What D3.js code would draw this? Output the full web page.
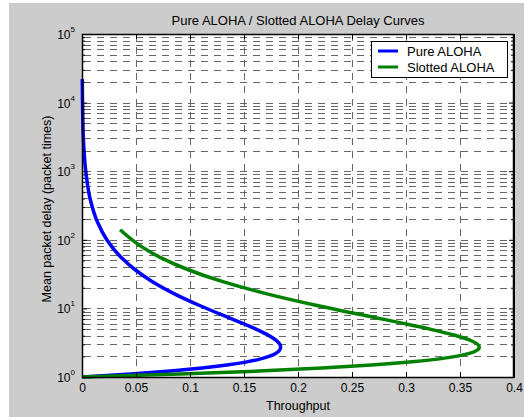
<!DOCTYPE html>
<html>
<head>
<meta charset="utf-8">
<script src="https://cdn.jsdelivr.net/npm/d3@7"></script>
<style>
body { margin: 0; background: #fff; }
text { font-family: "Liberation Sans", Arial, sans-serif; fill: #000; }
</style>
</head>
<body>
<div id="root"></div>
<script>
// throughput / delay pairs
const pureThroughput = [0, 0.0452, 0.0819, 0.1111, 0.1341, 0.1516, 0.1646, 0.1738, 0.1797, 0.1829, 0.1839, 0.1831, 0.1807, 0.1726, 0.1615, 0.1488, 0.1353, 0.1089, 0.0851, 0.0652, 0.0492, 0.0366, 0.0231, 0.0143, 0.0074, 0.0032, 0.0013, 0.00056, 0.00023];
const pureDelay = [1, 1.105, 1.221, 1.35, 1.492, 1.649, 1.822, 2.014, 2.226, 2.46, 2.718, 3.004, 3.32, 4.055, 4.953, 6.05, 7.389, 11.02, 16.44, 24.53, 36.6, 54.6, 99.5, 181.3, 403, 1097, 2981, 8103, 22026];

const slottedThroughput = [0, 0.0905, 0.1637, 0.2222, 0.2681, 0.3033, 0.3293, 0.3476, 0.3595, 0.3659, 0.3679, 0.3662, 0.3614, 0.3452, 0.323, 0.2975, 0.2707, 0.2177, 0.1703, 0.1304, 0.0984, 0.0733, 0.054, 0.0353];
const slottedDelay = [1, 1.105, 1.221, 1.35, 1.492, 1.649, 1.822, 2.014, 2.226, 2.46, 2.718, 3.004, 3.32, 4.055, 4.953, 6.05, 7.389, 11.02, 16.44, 24.53, 36.6, 54.6, 81.5, 139.8];

const xTicks = [0, 0.05, 0.1, 0.15, 0.2, 0.25, 0.3, 0.35, 0.4];
const xTickLabels = ["0", "0.05", "0.1", "0.15", "0.2", "0.25", "0.3", "0.35", "0.4"];
const yTicks = [1, 10, 100, 1000, 10000, 100000];
const yExponents = ["0", "1", "2", "3", "4", "5"];

const seriesNames = ["Pure ALOHA", "Slotted ALOHA"];
const seriesColors = ["#0000ff", "#008000"];

const width = 524, height = 417;
const mLeft = 82, mRight = 514, mTop = 34, mBottom = 377;

const svg = d3.select("#root").append("svg")
  .attr("width", width)
  .attr("height", height);

// figure background
svg.append("rect")
  .attr("x", 9).attr("y", 3)
  .attr("width", width - 9).attr("height", height - 3)
  .attr("fill", "#cccccc");

const x = d3.scaleLinear().domain([0, 0.4]).range([mLeft, mRight]);
const y = d3.scaleLog().domain([1, 1e5]).range([mBottom, mTop]);

// plot area
svg.append("rect")
  .attr("x", mLeft).attr("y", mTop)
  .attr("width", mRight - mLeft).attr("height", mBottom - mTop)
  .attr("fill", "#fff");

// minor log values 2..9 per decade
const minorY = [];
for (let k = 0; k < 5; k++) {
  for (let m = 2; m <= 9; m++) minorY.push(m * Math.pow(10, k));
}

// grid
const grid = svg.append("g")
  .attr("stroke", "#666")
  .attr("stroke-width", 1)
  .attr("stroke-dasharray", "7,6");

grid.selectAll(".vg")
  .data(xTicks.slice(1, -1))
  .enter().append("line")
  .attr("x1", d => Math.round(x(d)) + 0.5).attr("x2", d => Math.round(x(d)) + 0.5)
  .attr("y1", mTop).attr("y2", mBottom);

grid.selectAll(".hg")
  .data(yTicks.slice(1, -1).concat(minorY))
  .enter().append("line")
  .attr("x1", mLeft + 2).attr("x2", mRight)
  .attr("y1", d => Math.round(y(d)) + 0.5).attr("y2", d => Math.round(y(d)) + 0.5);

// curves
const line = d3.line()
  .x(d => x(d[0]))
  .y(d => y(d[1]))
  .curve(d3.curveMonotoneY);

const series = [
  d3.zip(pureThroughput, pureDelay),
  d3.zip(slottedThroughput, slottedDelay)
];

svg.selectAll(".curve")
  .data(series)
  .enter().append("path")
  .attr("d", line)
  .attr("fill", "none")
  .attr("stroke", (d, i) => seriesColors[i])
  .attr("stroke-width", 3.5)
  .attr("stroke-linejoin", "round");

// axes: ticks inside on all four sides
const xAxisB = d3.axisBottom(x).tickValues(xTicks).tickSizeInner(-5).tickSizeOuter(0).tickPadding(6)
  .tickFormat((d, i) => xTickLabels[i]);
const gxb = svg.append("g").attr("transform", "translate(0," + mBottom + ")").call(xAxisB);
gxb.selectAll("text").style("font-size", "12px").style("font-family", "Liberation Sans, Arial, sans-serif");

const xAxisT = d3.axisTop(x).tickValues(xTicks).tickSizeInner(-5).tickSizeOuter(0).tickFormat("");
svg.append("g").attr("transform", "translate(0," + mTop + ")").call(xAxisT);

const yAxisL = d3.axisLeft(y).tickValues(yTicks).tickSizeInner(-5).tickSizeOuter(0).tickFormat("");
svg.append("g").attr("transform", "translate(" + mLeft + ",0)").call(yAxisL);
const yAxisR = d3.axisRight(y).tickValues(yTicks).tickSizeInner(-5).tickSizeOuter(0).tickFormat("");
svg.append("g").attr("transform", "translate(" + mRight + ",0)").call(yAxisR);

const yMinorL = d3.axisLeft(y).tickValues(minorY).tickSizeInner(-3).tickSizeOuter(0).tickFormat("");
svg.append("g").attr("transform", "translate(" + mLeft + ",0)").call(yMinorL);
const yMinorR = d3.axisRight(y).tickValues(minorY).tickSizeInner(-3).tickSizeOuter(0).tickFormat("");
svg.append("g").attr("transform", "translate(" + mRight + ",0)").call(yMinorR);

svg.selectAll(".domain").attr("stroke", "#000");

// box
svg.append("rect")
  .attr("x", mLeft + 0.5).attr("y", mTop + 0.5)
  .attr("width", mRight - mLeft - 1).attr("height", mBottom - mTop)
  .attr("fill", "none").attr("stroke", "#000").attr("stroke-width", 1.5);

// y tick labels 10^k
const ylab = svg.selectAll(".ylab")
  .data(yTicks)
  .enter().append("text")
  .attr("x", mLeft - 7)
  .attr("y", d => y(d) + 5)
  .attr("text-anchor", "end")
  .style("font-size", "12px");
ylab.append("tspan").text("10");
ylab.append("tspan")
  .attr("dy", -7)
  .style("font-size", "8px")
  .text((d, i) => yExponents[i]);

// title and labels
svg.append("text")
  .attr("x", (mLeft + mRight) / 2).attr("y", 25)
  .attr("text-anchor", "middle")
  .style("font-size", "13px")
  .text("Pure ALOHA / Slotted ALOHA Delay Curves");

svg.append("text")
  .attr("x", (mLeft + mRight) / 2).attr("y", 410)
  .attr("text-anchor", "middle")
  .style("font-size", "12.5px")
  .text("Throughput");

svg.append("text")
  .attr("transform", "translate(51,209) rotate(-90)")
  .attr("text-anchor", "middle")
  .style("font-size", "12.5px")
  .text("Mean packet delay (packet times)");

// legend
const legend = svg.append("g");
legend.append("rect")
  .attr("x", 371.5).attr("y", 41.5)
  .attr("width", 136).attr("height", 36)
  .attr("fill", "#fff").attr("stroke", "#000").attr("stroke-width", 1);

seriesNames.forEach(function(name, i) {
  legend.append("line")
    .attr("x1", 378).attr("x2", 398)
    .attr("y1", 51 + i * 16).attr("y2", 51 + i * 16)
    .attr("stroke", seriesColors[i]).attr("stroke-width", 3);
  legend.append("text")
    .attr("x", 407).attr("y", 55.5 + i * 16)
    .style("font-size", "13px")
    .text(name);
});
</script>
</body>
</html>
